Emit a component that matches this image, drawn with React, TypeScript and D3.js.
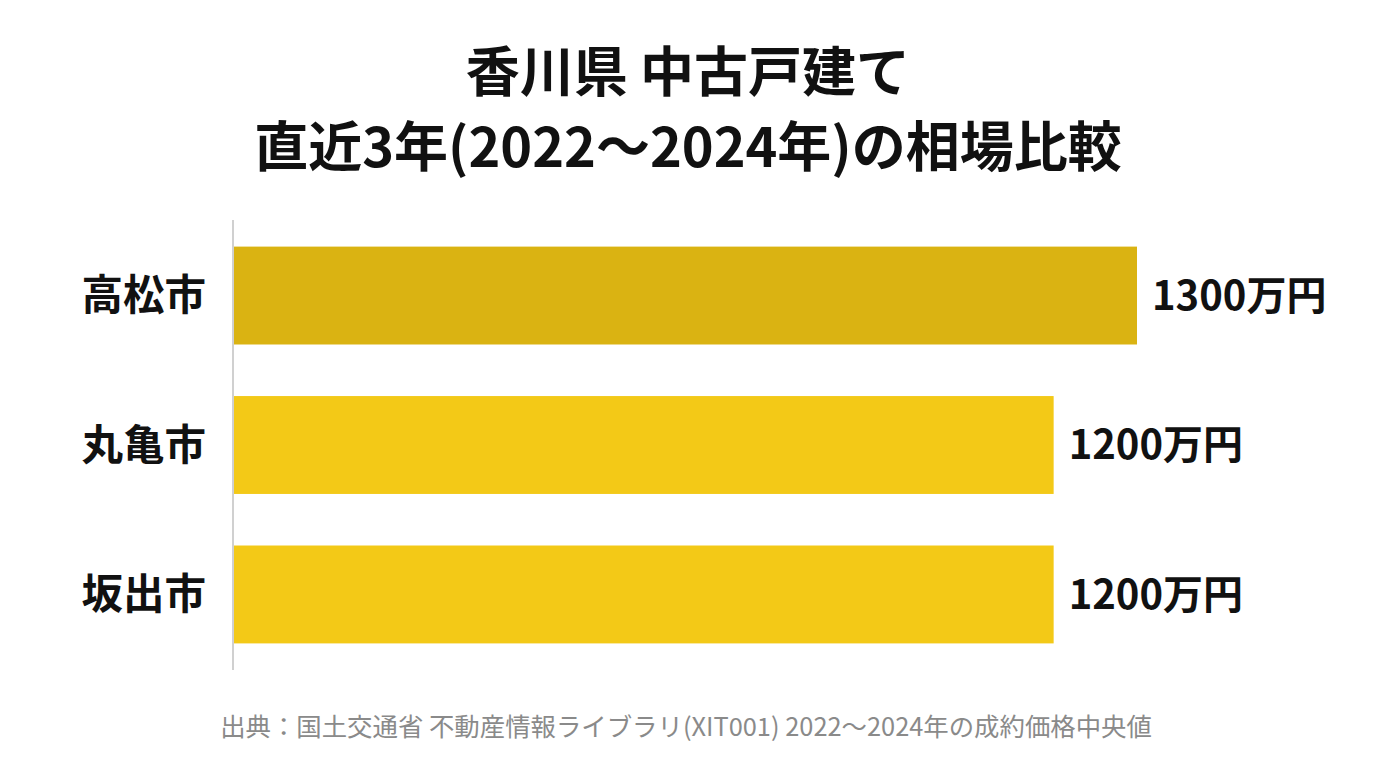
import React, { useEffect, useRef } from "react";
import * as d3 from "d3";

// データ
const cities = ["高松市", "丸亀市", "坂出市"];
const prices = [1300, 1180, 1180]; // 万円（成約価格中央値、表示は100万円単位）
const highlight = ["高松市"];
const titleLines = ["香川県 中古戸建て", "直近3年(2022〜2024年)の相場比較"];
const sourceNote = "出典：国土交通省 不動産情報ライブラリ(XIT001) 2022〜2024年の成約価格中央値";

const W = 1376;
const H = 768;
const FONT = "'Noto Sans CJK JP', 'Noto Sans', sans-serif";

export default function App() {
	const svgRef = useRef<SVGSVGElement | null>(null);

	useEffect(() => {
		if (!svgRef.current) return;
		const svg = d3.select(svgRef.current);
		svg.selectAll("*").remove();

		const data = cities.map((name, i) => ({ name, value: prices[i] }));

		const y = d3
			.scaleBand()
			.domain(cities)
			.range([220, 670])
			.paddingInner(0.345)
			.paddingOuter(0.178);

		const x = d3.scaleLinear().domain([0, 1300]).range([234, 1137]);

		// タイトル
		svg
			.append("g")
			.selectAll("text")
			.data(titleLines)
			.enter()
			.append("text")
			.attr("x", 688)
			.attr("y", (_, i) => 92 + i * 75)
			.attr("text-anchor", "middle")
			.attr("font-family", FONT)
			.attr("font-weight", 700)
			.attr("font-size", 54)
			.attr("fill", "#111")
			.text((d) => d);

		// 棒
		svg
			.append("g")
			.selectAll("rect")
			.data(data)
			.enter()
			.append("rect")
			.attr("x", x(0))
			.attr("y", (d) => y(d.name) || 0)
			.attr("width", (d) => x(d.value) - x(0))
			.attr("height", y.bandwidth())
			.attr("fill", (d) => (highlight.includes(d.name) ? "#DAB312" : "#F3C917"));

		// 軸線
		svg
			.append("line")
			.attr("x1", 233)
			.attr("x2", 233)
			.attr("y1", 220)
			.attr("y2", 670)
			.attr("stroke", "#d0d0d0")
			.attr("stroke-width", 2);

		// カテゴリ名
		svg
			.append("g")
			.selectAll("text")
			.data(data)
			.enter()
			.append("text")
			.attr("x", 206)
			.attr("y", (d) => (y(d.name) || 0) + y.bandwidth() / 2)
			.attr("dy", "0.36em")
			.attr("text-anchor", "end")
			.attr("font-family", FONT)
			.attr("font-weight", 700)
			.attr("font-size", 41.5)
			.attr("fill", "#111")
			.text((d) => d.name);

		// 値ラベル
		svg
			.append("g")
			.selectAll("text")
			.data(data)
			.enter()
			.append("text")
			.attr("x", (d) => x(d.value) + 15)
			.attr("y", (d) => (y(d.name) || 0) + y.bandwidth() / 2)
			.attr("dy", "0.36em")
			.attr("font-family", FONT)
			.attr("font-weight", 700)
			.attr("font-size", 40)
			.attr("fill", "#111")
			.text((d) => `${Math.round(d.value / 100) * 100}万円`);

		// 出典
		svg
			.append("text")
			.attr("x", 686)
			.attr("y", 736)
			.attr("text-anchor", "middle")
			.attr("font-family", FONT)
			.attr("font-weight", 400)
			.attr("font-size", 25.4)
			.attr("fill", "#8a8a8a")
			.text(sourceNote);
	}, []);

	return (
		<svg
			ref={svgRef}
			width={W}
			height={H}
			style={{ position: "absolute", left: 0, top: 0, background: "#fff" }}
		></svg>
	);
}
